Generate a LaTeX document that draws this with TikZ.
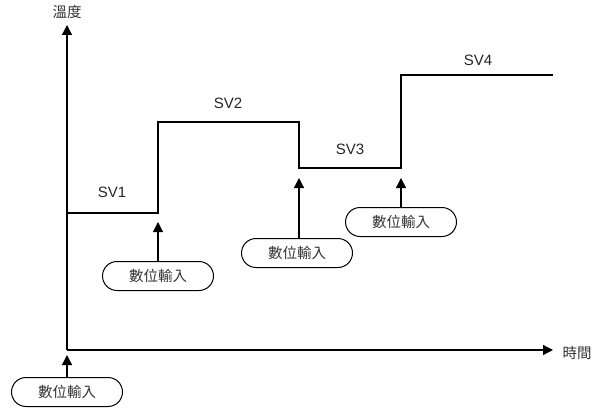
\documentclass[tikz,border=0pt]{standalone}
\usepackage{fontspec}
\setmainfont{Liberation Sans}
\newfontfamily\cjk{Noto Sans CJK TC}
\usetikzlibrary{arrows.meta,shapes.misc}
\begin{document}
\begin{tikzpicture}[x=1pt,y=-1pt,
  ln/.style={line width=1.3pt, draw=black},
  arr/.style={line width=1.3pt, -{Triangle[length=10pt,width=10pt]}},
  inbox/.style={draw, line width=1pt, rounded rectangle, minimum width=111pt, minimum height=29pt, inner sep=0pt, font=\cjk\fontsize{14.5}{16}\selectfont, text=black!80},
  lbl/.style={font=\fontsize{15}{17}\selectfont, text=black!85},
  axl/.style={font=\cjk\fontsize{14.5}{16}\selectfont, text=black!80}]
\useasboundingbox (0,0) rectangle (592,412);
\coordinate (o) at (67,350);
\coordinate (ytop) at (67,25);
\coordinate (xend) at (553,350);
\draw[arr] (o) -- (ytop);
\draw[arr] (o) -- (xend);
\node[axl] (ylab) at (67,12) {溫度};
\node[axl] (xlab) at (577,353) {時間};
% step line
\coordinate (s0) at (67,213);
\coordinate (s1) at (158,213);
\coordinate (s2) at (158,122);
\coordinate (s3) at (299,122);
\coordinate (s4) at (299,168);
\coordinate (s5) at (401,168);
\coordinate (s6) at (401,75);
\coordinate (s7) at (553,75);
\draw[ln] (s0) -- (s1) -- (s2) -- (s3) -- (s4) -- (s5) -- (s6) -- (s7);
\node[lbl] (sv1) at (112,192) {SV1};
\node[lbl] (sv2) at (228,103) {SV2};
\node[lbl] (sv3) at (350,149) {SV3};
\node[lbl] (sv4) at (478,60) {SV4};
% input boxes
\node[inbox] (b1) at (67,392) {數位輸入};
\node[inbox] (b2) at (158,276) {數位輸入};
\node[inbox] (b3) at (297,253) {數位輸入};
\node[inbox] (b4) at (401,222) {數位輸入};
\coordinate (t1) at (67,355);
\coordinate (t2) at (158,222);
\coordinate (t3) at (299,178);
\coordinate (t4) at (401,178);
\draw[arr] (b1.north) -- (t1);
\draw[arr] (b2.north) -- (t2);
\draw[arr] ([xshift=2pt]b3.north) -- (t3);
\draw[arr] (b4.north) -- (t4);
\end{tikzpicture}
\end{document}
